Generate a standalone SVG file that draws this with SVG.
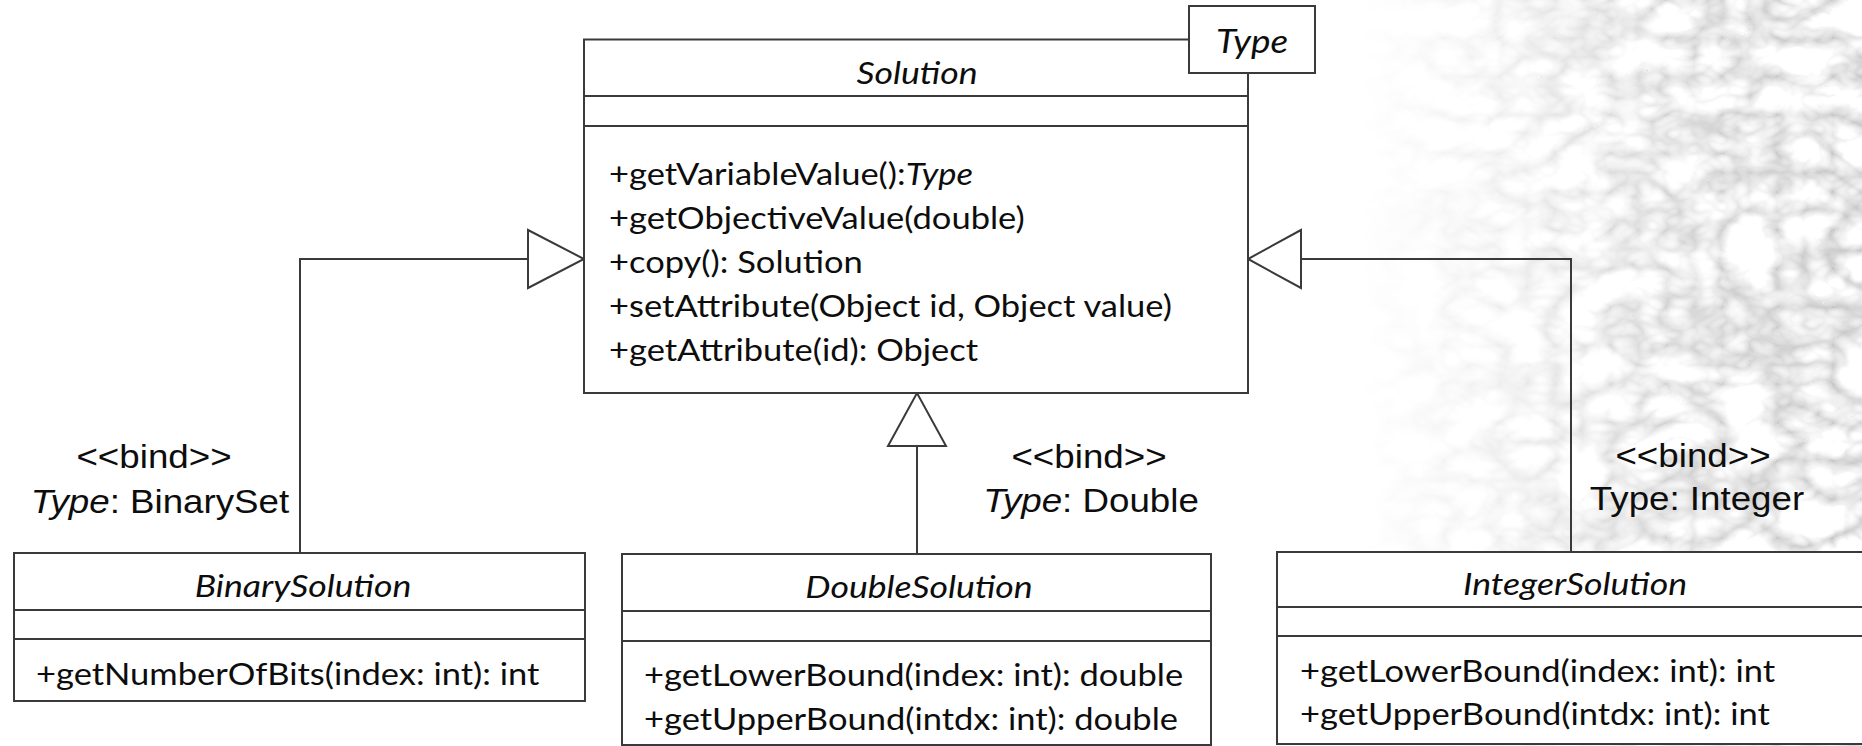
<svg xmlns="http://www.w3.org/2000/svg" width="1862" height="746" viewBox="0 0 1862 746">
<defs>
<style>
.box{fill:#ffffff;stroke:#3a3a3a;stroke-width:2}
.div{stroke:#3a3a3a;stroke-width:2.2;fill:none}
.ln{stroke:#3a3a3a;stroke-width:2;fill:none}
.tri{fill:#ffffff;stroke:#3a3a3a;stroke-width:2;stroke-linejoin:miter}
.m{font-family:Lato,"Open Sans",sans-serif;font-size:30px;fill:#0d0d0d}
.h{font-family:Lato,"Open Sans",sans-serif;font-size:31px;font-style:italic;fill:#0d0d0d;text-anchor:middle}
.b{font-family:"Liberation Sans",Arial,sans-serif;font-size:34px;fill:#0d0d0d;text-anchor:middle}
.i{font-style:italic}
</style>
<linearGradient id="fadeMask" x1="0" y1="0" x2="1" y2="0">
<stop offset="0" stop-color="#000"/>
<stop offset="0.3" stop-color="#555"/>
<stop offset="0.6" stop-color="#c4c4c4"/>
<stop offset="1" stop-color="#fff"/>
</linearGradient>
<mask id="m1"><rect x="1360" y="0" width="502" height="746" fill="url(#fadeMask)"/></mask>
<filter id="tex" x="0" y="0" width="1" height="1">
<feTurbulence type="turbulence" baseFrequency="0.018 0.026" numOctaves="3" seed="11"/>
<feColorMatrix type="matrix" values="1.0 0 0 0 0.56  1.0 0 0 0 0.56  1.0 0 0 0 0.56  0 0 0 0 1"/>
</filter>
</defs>
<rect width="1862" height="746" fill="#ffffff"/>
<g id="background">
<rect x="1360" y="0" width="502" height="746" filter="url(#tex)" mask="url(#m1)"/>
</g>

<g id="connectors">
<path class="ln" d="M300 553 V259 H528"/>
<polygon class="tri" points="528,230 584,259 528,288"/>
<path class="ln" d="M1571 552 V259 H1301"/>
<polygon class="tri" points="1301,230 1248,259 1301,288"/>
<path class="ln" d="M917 554 V446"/>
<polygon class="tri" points="888,446 917,393 946,446"/>
<text class="b" transform="translate(154 468) scale(1.08 1)">&lt;&lt;bind&gt;&gt;</text>
<text class="b" transform="translate(160 513) scale(1.08 1)"><tspan class="i">Type</tspan>: BinarySet</text>
<text class="b" transform="translate(1089 468) scale(1.08 1)">&lt;&lt;bind&gt;&gt;</text>
<text class="b" transform="translate(1091 512) scale(1.08 1)"><tspan class="i">Type</tspan>: Double</text>
<text class="b" transform="translate(1693 467) scale(1.08 1)">&lt;&lt;bind&gt;&gt;</text>
<text class="b" transform="translate(1697 510) scale(1.08 1)">Type: Integer</text>
</g>

<g id="Solution">
<rect class="box" x="584" y="39.5" width="664" height="353.5"/>
<line class="div" x1="584" y1="96" x2="1248" y2="96"/>
<line class="div" x1="584" y1="126" x2="1248" y2="126"/>
<text class="h" transform="translate(917 84) scale(1.15 1)">Solution</text>
<text class="m" transform="translate(609 185) scale(1.15 1)">+getVariableValue():<tspan class="i">Type</tspan></text>
<text class="m" transform="translate(609 229) scale(1.15 1)">+getObjectiveValue(double)</text>
<text class="m" transform="translate(609 273) scale(1.15 1)">+copy(): Solution</text>
<text class="m" transform="translate(609 317) scale(1.15 1)">+setAttribute(Object id, Object value)</text>
<text class="m" transform="translate(609 361) scale(1.15 1)">+getAttribute(id): Object</text>
</g>

<g id="TypeParam">
<rect class="box" x="1189" y="6" width="126" height="67"/>
<text class="h" transform="translate(1252 53) scale(1.12 1)" style="font-size:33px">Type</text>
</g>

<g id="BinarySolution">
<rect class="box" x="14" y="553" width="571" height="148"/>
<line class="div" x1="14" y1="610" x2="585" y2="610"/>
<line class="div" x1="14" y1="639" x2="585" y2="639"/>
<text class="h" transform="translate(303 597) scale(1.15 1)">BinarySolution</text>
<text class="m" transform="translate(36 685) scale(1.15 1)">+getNumberOfBits(index: int): int</text>
</g>

<g id="DoubleSolution">
<rect class="box" x="622" y="554" width="589" height="191"/>
<line class="div" x1="622" y1="611" x2="1211" y2="611"/>
<line class="div" x1="622" y1="641" x2="1211" y2="641"/>
<text class="h" transform="translate(919 598) scale(1.15 1)">DoubleSolution</text>
<text class="m" transform="translate(644 686) scale(1.15 1)">+getLowerBound(index: int): double</text>
<text class="m" transform="translate(644 730) scale(1.15 1)">+getUpperBound(intdx: int): double</text>
</g>

<g id="IntegerSolution">
<rect class="box" x="1277" y="552" width="620" height="192"/>
<line class="div" x1="1277" y1="607" x2="1897" y2="607"/>
<line class="div" x1="1277" y1="636" x2="1897" y2="636"/>
<text class="h" transform="translate(1575 595) scale(1.15 1)">IntegerSolution</text>
<text class="m" transform="translate(1300 682) scale(1.15 1)">+getLowerBound(index: int): int</text>
<text class="m" transform="translate(1300 725) scale(1.15 1)">+getUpperBound(intdx: int): int</text>
</g>
</svg>
